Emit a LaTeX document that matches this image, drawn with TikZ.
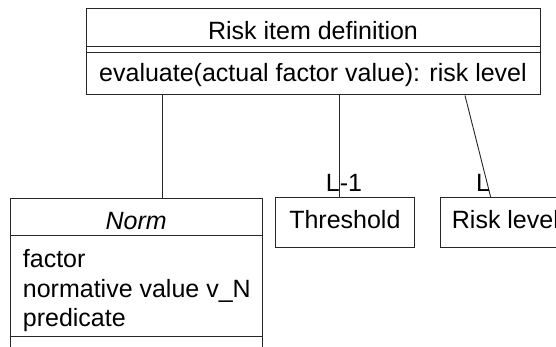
\documentclass[tikz,border=0pt]{standalone}
\usepackage{fontspec}
\setmainfont{Liberation Sans}
\begin{document}
\begin{tikzpicture}[x=1pt,y=-1pt,
  box/.style={draw=black!85, line width=1pt, inner sep=0pt},
  lbl/.style={inner sep=0pt, anchor=base},
  lblw/.style={inner sep=0pt, anchor=base west},
  wire/.style={draw=black!85, line width=0.9pt},
  font=\fontsize{25}{30}\selectfont]
\clip (0,0) rectangle (556,347);
\fill[white] (0,0) rectangle (556,347);

% helper coordinates for horizontal rules and connector columns
\coordinate (d1) at (0,46);
\coordinate (d2) at (0,52);
\coordinate (d3) at (0,235.7);
\coordinate (d4) at (0,336.7);
\coordinate (xa) at (162,0);
\coordinate (xb) at (339,0);
\coordinate (xc) at (465,0);
\coordinate (xd) at (490.7,0);

% class: Risk item definition
\node[box, minimum width=454pt, minimum height=86.7pt] (rid) at (313,51.65) {};
\node[lbl] (ridname) at (313,39.3) {Risk item definition};
\draw[wire] (rid.west |- d1) -- (rid.east |- d1);
\draw[wire] (rid.west |- d2) -- (rid.east |- d2);
\node[lbl] (ridop) at (313,81.7) {evaluate(actual factor value): risk level};

% class: Norm (abstract)
\node[box, minimum width=252.3pt, minimum height=181.7pt] (norm) at (136.15,289.15) {};
\node[lbl] (normname) at (136.15,229.3) {\itshape Norm};
\draw[wire] (norm.west |- d3) -- (norm.east |- d3);
\node[lblw] (nattr1) at (22.7,267.3) {factor};
\node[lblw] (nattr2) at (22.7,297.3) {normative value v\_N};
\node[lblw] (nattr3) at (22.7,326.8) {predicate};
\draw[wire] (norm.west |- d4) -- (norm.east |- d4);

% class: Threshold
\node[box, minimum width=138.3pt, minimum height=49.3pt] (thr) at (344.85,222.35) {};
\node[lbl] (thrname) at (344.85,228.3) {Threshold};

% class: Risk level
\node[box, minimum width=160pt, minimum height=49.3pt] (risk) at (520,222.35) {};
\node[lblw] (riskname) at (451.7,228.3) {Risk level};

% associations
\draw[wire] (rid.south -| xa) -- (norm.north -| xa);
\draw[wire] (rid.south -| xb) -- (thr.north -| xb);
\draw[wire] (rid.south -| xc) -- (risk.north -| xd);

% multiplicities
\node[lblw] (m1) at (325.7,192) {L-1};
\node[lblw] (m2) at (476,192) {L};
\end{tikzpicture}
\end{document}
